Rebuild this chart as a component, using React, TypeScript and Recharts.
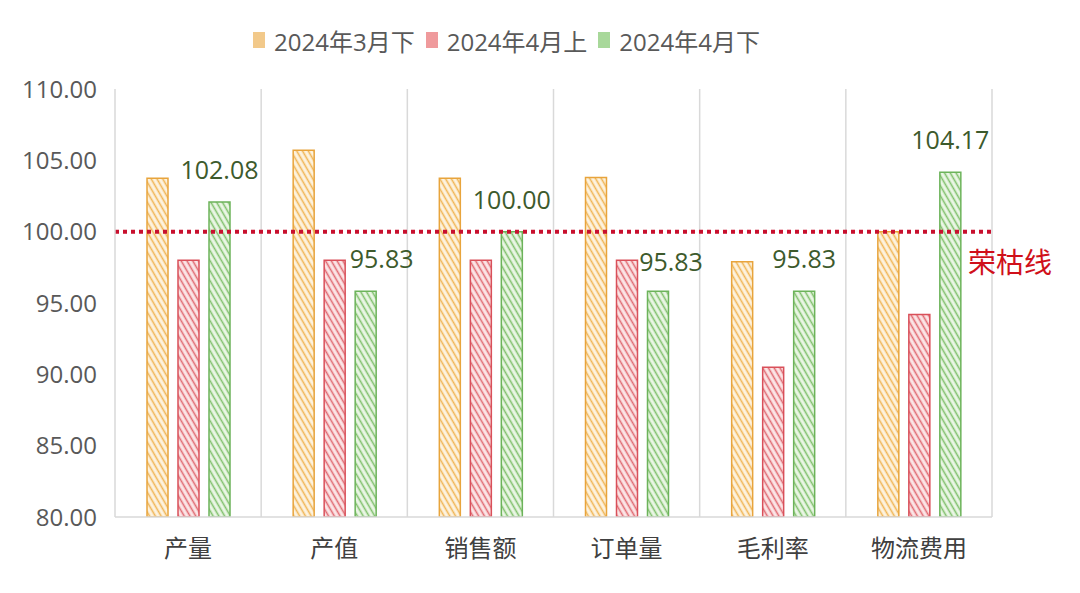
import React from "react";
import {
  BarChart,
  Bar,
  XAxis,
  YAxis,
  CartesianGrid,
  Legend,
  ReferenceLine,
  LabelList,
} from "recharts";

const categories = ["产量", "产值", "销售额", "订单量", "毛利率", "物流费用"];
const march2 = [103.75, 105.7, 103.75, 103.8, 97.9, 100.0];
const april1 = [98.0, 98.0, 98.0, 98.0, 90.5, 94.2];
const april2 = [102.08, 95.83, 100.0, 95.83, 95.83, 104.17];
const yTicks = [80, 85, 90, 95, 100, 105, 110];
const threshold = 100;

const SERIES = [
  { key: "m3b", name: "2024年3月下", stroke: "#e8a43c", line: "#f0b555", bg: "#fdf3e0", icon: "#f2c98a" },
  { key: "m4a", name: "2024年4月上", stroke: "#d9505a", line: "#e06a72", bg: "#fbe6e7", icon: "#ef9a9c" },
  { key: "m4b", name: "2024年4月下", stroke: "#6cb35a", line: "#80c06c", bg: "#ebf6e6", icon: "#a8d89a" },
];

const data = categories.map((c, i) => ({
  name: c,
  m3b: march2[i],
  m4a: april1[i],
  m4b: april2[i],
}));

const FONT = "'Open Sans', 'Noto Sans CJK SC', sans-serif";

// manual nudges for a couple of labels, like the original
const LABEL_NUDGE: Record<number, [number, number]> = {
  1: [16, 0],
  3: [13, 3],
};

const GreenLabel = (props: any) => {
  const { x, y, width, value, index } = props;
  const [dx, dy] = LABEL_NUDGE[index] || [0, 0];
  return (
    <text
      x={x + width / 2 + dx}
      y={y - 33 + dy}
      textAnchor="middle"
      dominantBaseline="central"
      fill="#3d5a2c"
      fontSize={25}
      fontFamily={FONT}
    >
      {Number(value).toFixed(2)}
    </text>
  );
};

const LegendContent = () => (
  <div
    style={{
      display: "flex",
      justifyContent: "center",
      alignItems: "center",
      height: 36,
      fontFamily: FONT,
      fontSize: 24,
      color: "#595959",
      paddingLeft: 30,
    }}
  >
    {SERIES.map((s) => (
      <div key={s.key} style={{ display: "flex", alignItems: "center", marginRight: 10 }}>
        <svg width={14} height={18} style={{ marginRight: 8 }}>
          <rect x={1} y={1} width={12} height={16} fill={s.icon} />
        </svg>
        <span>{s.name}</span>
      </div>
    ))}
  </div>
);

const ThresholdLabel = (props: any) => {
  const { viewBox } = props;
  return (
    <text
      x={viewBox.x + viewBox.width - 24}
      y={viewBox.y + 30}
      dominantBaseline="central"
      fill="#d0101a"
      fontSize={28}
      fontFamily={FONT}
    >
      荣枯线
    </text>
  );
};

export default function App() {
  return (
    <div style={{ position: "absolute", left: 0, top: 0, width: 1080, height: 593, background: "#fff" }}>
      <BarChart
        width={1080}
        height={593}
        data={data}
        margin={{ top: 53, right: 88, bottom: 0, left: 0 }}
        barSize={21}
        barGap={10}
      >
        <defs>
          {SERIES.map((s) => (
            <pattern
              key={s.key}
              id={`hatch-${s.key}`}
              patternUnits="userSpaceOnUse"
              width={5}
              height={5}
              patternTransform="rotate(-30)"
            >
              <rect width={5} height={5} fill={s.bg} />
              <line x1={1.5} y1={0} x2={1.5} y2={5} stroke={s.line} strokeWidth={1.6} />
            </pattern>
          ))}
        </defs>
        <CartesianGrid
          horizontal={false}
          stroke="#d9d9d9"
          strokeWidth={1.5}
          verticalCoordinatesGenerator={({ offset }: any) =>
            categories.map((_, i) => offset.left + ((i + 1) * offset.width) / categories.length)
          }
        />
        <Legend verticalAlign="top" content={<LegendContent />} wrapperStyle={{ top: 22 }} />
        <XAxis
          dataKey="name"
          height={76}
          axisLine={{ stroke: "#d9d9d9", strokeWidth: 1.5 }}
          tickLine={false}
          tickMargin={17}
          tick={{ fill: "#404040", fontSize: 24, fontFamily: FONT }}
        />
        <YAxis
          width={115}
          domain={[80, 110]}
          ticks={yTicks}
          allowDataOverflow
          axisLine={{ stroke: "#d9d9d9", strokeWidth: 1.5 }}
          tickLine={false}
          tickSize={0}
          tickMargin={18}
          tickFormatter={(v: number) => v.toFixed(2)}
          tick={{ fill: "#595959", fontSize: 24, fontFamily: FONT }}
        />
        {SERIES.map((s) => (
          <Bar
            key={s.key}
            dataKey={s.key}
            name={s.name}
            fill={`url(#hatch-${s.key})`}
            stroke={s.stroke}
            strokeWidth={1.5}
            isAnimationActive={false}
          >
            {s.key === "m4b" && <LabelList dataKey="m4b" content={<GreenLabel />} />}
          </Bar>
        ))}
        <ReferenceLine
          y={threshold}
          stroke="#c8102e"
          strokeWidth={4}
          strokeDasharray="4 4"
          label={<ThresholdLabel />}
        />
      </BarChart>
    </div>
  );
}
